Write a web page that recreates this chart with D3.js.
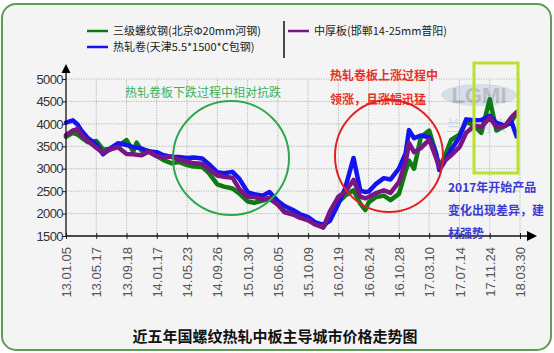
<!DOCTYPE html>
<html>
<head>
<meta charset="utf-8">
<script src="https://cdn.jsdelivr.net/npm/d3@7"></script>
<style>
  body { margin: 0; background: #fff; }
  svg { display: block; font-family: "Liberation Sans", Arial, "Noto Sans CJK SC", sans-serif; }
</style>
</head>
<body>
<div id="chart"></div>
<script>
// sample positions, in weeks from 13.01.05
const weeks = [0,4,7,9,13,18,22,27,31,36,40,42,45,49,54,58,63,67,72,76,81,85,90,94,99,103,108,112,117,121,126,130,135,139,144,148,153,157,162,166,171,175,178,180,184,189,193,198,202,204,207,211,216,220,222,225,229,234,238,243,247,252,256,261,265,268];

// 三级螺纹钢(北京Φ20mm河钢)
const rebar = [3710,3800,3760,3700,3590,3620,3430,3440,3500,3640,3380,3580,3400,3400,3280,3190,3120,3150,3080,3050,3040,2900,2650,2600,2560,2450,2270,2240,2290,2330,2200,2050,1990,1920,1880,1800,1690,1900,2250,2400,2520,2220,2080,2250,2360,2400,2300,2440,2950,3180,3000,3700,3850,3350,3050,3250,3640,3760,4050,3950,3800,4550,3850,3950,4060,4240];

// 热轧卷(天津5.5*1500*C包钢)
const hotCoil = [4030,4080,3980,3860,3680,3550,3320,3470,3570,3530,3480,3470,3450,3390,3370,3300,3260,3260,3240,3250,3230,3100,2920,2900,2930,2780,2480,2430,2400,2480,2280,2170,2080,1990,1920,1810,1750,1840,2220,2560,3240,2520,2480,2490,2650,2790,2760,3000,3350,3860,3680,3740,3700,3350,2970,3150,3420,3700,4100,4080,4085,4180,4020,3960,4040,3720];

// 中厚板(邯郸14-25mm普阳)
const plate = [3750,3850,3890,3750,3620,3470,3350,3440,3480,3330,3320,3310,3300,3380,3280,3250,3270,3200,3160,3120,3110,2990,2850,2820,2800,2550,2370,2370,2320,2350,2200,2030,1980,1910,1850,1760,1690,2050,2380,2480,2750,2380,2340,2370,2450,2520,2460,2700,3150,3570,3370,3460,3650,3250,3040,3170,3300,3480,3800,3960,3930,4140,3930,3950,4150,4260];

const tickWeeks = [0,18,36,54,72,90,108,126,144,162,180,198,216,234,252,270];
const tickLabels = ["13.01.05","13.05.17","13.09.18","14.01.17","14.05.23","14.09.26","15.01.30","15.06.05","15.10.09","16.02.19","16.06.24","16.10.28","17.03.10","17.07.14","17.11.24","18.03.30"];
const yTicks = [1500,2000,2500,3000,3500,4000,4500,5000];

const width = 554, height = 353;

let svg = d3.select("#chart")
    .append("svg")
    .attr("width", width)
    .attr("height", height);

// frame
svg.append("rect")
    .attr("x", 2).attr("y", 4)
    .attr("width", 549).attr("height", 346)
    .attr("rx", 14)
    .attr("fill", "#f4f4f4")
    .attr("stroke", "#5f9c55")
    .attr("stroke-width", 2);

let x = d3.scaleLinear().domain([0, 270]).range([66, 520]);
let y = d3.scaleLinear().domain([1500, 5000]).range([236, 79]);

// grid
svg.append("g")
    .selectAll("line")
    .data(yTicks.slice(1))
    .enter()
    .append("line")
    .attr("x1", x(0)).attr("x2", x(270))
    .attr("y1", d => y(d)).attr("y2", d => y(d))
    .attr("stroke", "#b4b4b4")
    .attr("stroke-dasharray", "1.2,1.3");

svg.append("g")
    .selectAll("line")
    .data(tickWeeks.slice(1))
    .enter()
    .append("line")
    .attr("x1", d => x(d)).attr("x2", d => x(d))
    .attr("y1", y(1500)).attr("y2", y(5000))
    .attr("stroke", "#b4b4b4")
    .attr("stroke-dasharray", "1.2,1.3");

// watermark
let wm = svg.append("g").attr("opacity", 0.35);
wm.append("ellipse").attr("cx", 479).attr("cy", 95).attr("rx", 38).attr("ry", 11)
    .attr("fill", "#9fb6e0");
wm.append("text").attr("x", 479).attr("y", 103).attr("text-anchor", "middle")
    .style("font-size", "22px").style("font-weight", "bold").attr("fill", "#555")
    .text("LGMI");
wm.append("text").attr("x", 446).attr("y", 131)
    .style("font-size", "15px").style("font-family", "Noto Sans CJK SC").attr("fill", "#7f9fd8")
    .text("兰格钢铁");

// series
let line = d3.line()
    .x((d, i) => x(weeks[i]))
    .y(d => y(d));

const series = [
  { values: rebar, color: "#0f7a12" },
  { values: hotCoil, color: "#1414f0" },
  { values: plate, color: "#7a1585" }
];

svg.append("g")
    .selectAll("path")
    .data(series)
    .enter()
    .append("path")
    .attr("d", d => line(d.values))
    .attr("fill", "none")
    .attr("stroke", d => d.color)
    .attr("stroke-width", 4.5)
    .attr("stroke-linejoin", "round")
    .attr("stroke-linecap", "round");

// axes
let xAxis = svg.append("g")
    .attr("transform", "translate(0," + y(1500) + ")")
    .call(d3.axisBottom(x).tickValues(tickWeeks).tickFormat((d, i) => tickLabels[i]).tickSizeOuter(0));
xAxis.select(".domain").remove();
xAxis.selectAll(".tick line").attr("y1", -3).attr("y2", 3).attr("stroke", "#222");
xAxis.selectAll("text")
    .attr("transform", "rotate(-90)")
    .attr("x", -11).attr("y", 0).attr("dy", "0.35em")
    .style("text-anchor", "end")
    .style("font-size", "13px")
    .style("font-family", "Liberation Sans, Arial")
    .attr("fill", "#555");

let yAxis = svg.append("g")
    .attr("transform", "translate(" + x(0) + ",0)")
    .call(d3.axisLeft(y).tickValues(yTicks).tickFormat(d3.format("d")).tickSize(4).tickSizeOuter(0));
yAxis.select(".domain").remove();
yAxis.selectAll(".tick line").attr("stroke", "#222");
yAxis.selectAll("text")
    .attr("x", -3)
    .style("font-size", "13px")
    .style("font-family", "Liberation Sans, Arial")
    .style("letter-spacing", "-0.6px")
    .attr("fill", "#333");

// axis lines with arrows
svg.append("line").attr("x1", x(0)).attr("x2", x(0)).attr("y1", y(1500)).attr("y2", 70)
    .attr("stroke", "#111").attr("stroke-width", 1.3);
svg.append("path").attr("d", "M" + x(0) + ",64 L" + (x(0) - 4.5) + ",73 L" + (x(0) + 4.5) + ",73 Z").attr("fill", "#000");
svg.append("line").attr("x1", x(0)).attr("x2", 530).attr("y1", y(1500)).attr("y2", y(1500))
    .attr("stroke", "#111").attr("stroke-width", 1.3);
svg.append("path").attr("d", "M537," + y(1500) + " L527," + (y(1500) - 5) + " L527," + (y(1500) + 5) + " Z").attr("fill", "#000");

// annotations
const cjk = "Noto Sans CJK SC";
svg.append("text").attr("x", 125).attr("y", 97)
    .style("font-family", cjk).style("font-size", "12px").attr("fill", "#3cb15a")
    .text("热轧卷板下跌过程中相对抗跌");
svg.append("ellipse").attr("cx", 231).attr("cy", 158).attr("rx", 58).attr("ry", 57)
    .attr("fill", "none").attr("stroke", "#2ea84f").attr("stroke-width", 2);

svg.append("text").attr("x", 330).attr("y", 80)
    .style("font-family", cjk).style("font-size", "12px").style("font-weight", "bold").attr("fill", "#e8302a")
    .text("热轧卷板上涨过程中");
svg.append("text").attr("x", 330).attr("y", 104)
    .style("font-family", cjk).style("font-size", "12px").style("font-weight", "bold").attr("fill", "#e8302a")
    .text("领涨，且涨幅迅猛");
svg.append("ellipse").attr("cx", 389).attr("cy", 156).attr("rx", 54).attr("ry", 56)
    .attr("fill", "none").attr("stroke", "#e21f26").attr("stroke-width", 2);

svg.append("rect").attr("x", 474).attr("y", 63).attr("width", 44).attr("height", 110)
    .attr("fill", "none").attr("stroke", "#b9e22e").attr("stroke-width", 3);

const blueNote = ["2017年开始产品", "变化出现差异，建", "材强势"];
svg.append("g")
    .selectAll("text")
    .data(blueNote)
    .enter()
    .append("text")
    .attr("x", 448)
    .attr("y", (d, i) => 192 + i * 23)
    .style("font-family", cjk).style("font-size", "12px").style("font-weight", "bold")
    .attr("fill", "#3b3bd2")
    .text(d => d);

// legend
const legend = [
  { label: "三级螺纹钢(北京Φ20mm河钢)", color: "#0f7a12", x: 87, y: 31 },
  { label: "热轧卷(天津5.5*1500*C包钢)", color: "#1414f0", x: 87, y: 47 },
  { label: "中厚板(邯郸14-25mm普阳)", color: "#7a1585", x: 288, y: 31 }
];
let lg = svg.append("g")
    .selectAll("g")
    .data(legend)
    .enter()
    .append("g");
lg.append("line")
    .attr("x1", d => d.x).attr("x2", d => d.x + 21)
    .attr("y1", d => d.y).attr("y2", d => d.y)
    .attr("stroke", d => d.color).attr("stroke-width", 2.5);
lg.append("text")
    .attr("x", d => d.x + 26).attr("y", d => d.y + 4)
    .style("font-family", cjk).style("font-size", "11px").attr("fill", "#222")
    .text(d => d.label);
svg.append("line").attr("x1", 284).attr("x2", 284).attr("y1", 21).attr("y2", 58)
    .attr("stroke", "#111").attr("stroke-width", 1.5);

// title
svg.append("text")
    .attr("x", 275).attr("y", 342)
    .attr("text-anchor", "middle")
    .style("font-family", "Noto Sans CJK SC").style("font-size", "15px").style("font-weight", "bold")
    .attr("fill", "#111")
    .text("近五年国螺纹热轧中板主导城市价格走势图");
</script>
</body>
</html>
